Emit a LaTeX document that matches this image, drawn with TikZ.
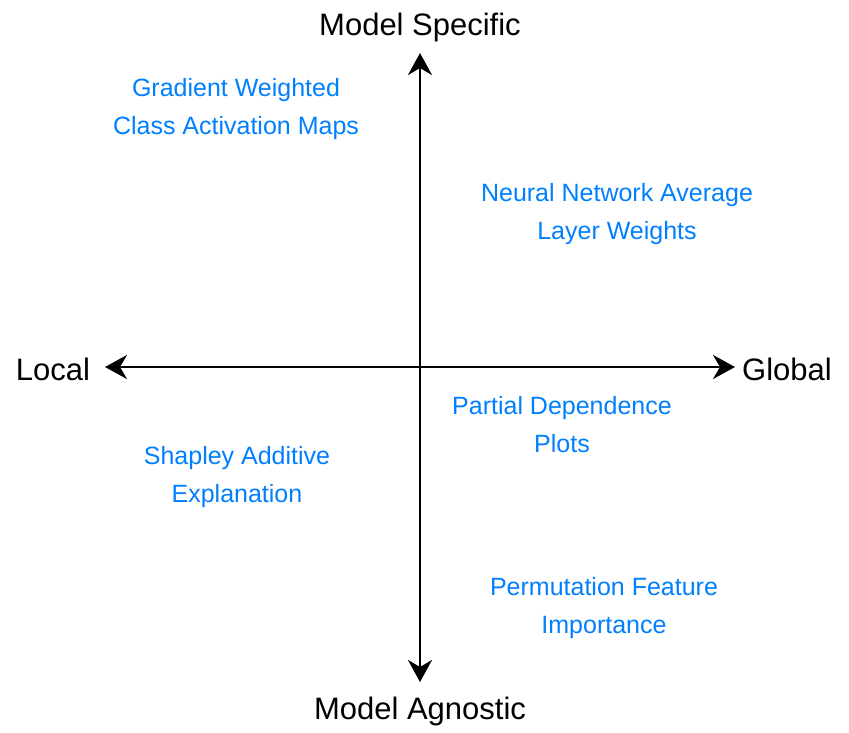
\documentclass[tikz,border=0pt]{standalone}
\usepackage{fontspec}
\setmainfont{Liberation Sans}
\usetikzlibrary{arrows.meta}
\definecolor{xblue}{HTML}{007FFF}
\begin{document}
\begin{tikzpicture}[x=1pt,y=-1pt,
  axis/.style={line width=2.6pt,{Stealth[length=22pt,width=24pt,inset=7pt]}-{Stealth[length=22pt,width=24pt,inset=7pt]}},
  axlabel/.style={font=\fontsize{31}{37}\selectfont,text=black,inner sep=0pt},
  method/.style={font=\fontsize{25}{38}\selectfont,text=xblue,align=center,inner sep=0pt}]
\useasboundingbox (0,0) rectangle (849,732);
\fill[white] (0,0) rectangle (849,732);
\coordinate (top) at (420,53);
\coordinate (bot) at (420,682);
\coordinate (lft) at (105,367);
\coordinate (rgt) at (735,367);
\draw[axis] (bot) -- (top);
\draw[axis] (lft) -- (rgt);
\node[axlabel] (ms) at (420,27) {Model Specific};
\node[axlabel] (ma) at (420,711) {Model Agnostic};
\node[axlabel] (loc) at (53,369) {Local};
\node[axlabel] (glo) at (787,369) {Global};
\node[method] (gw) at (236,109.5) {Gradient Weighted\\Class Activation Maps};
\node[method] (nn) at (617,214.5) {Neural Network Average\\Layer Weights};
\node[method] (pd) at (562,424.5) {Partial Dependence\\Plots};
\node[method] (sh) at (237,477.5) {Shapley Additive\\Explanation};
\node[method] (pf) at (604,608.5) {Permutation Feature\\Importance};
\end{tikzpicture}
\end{document}
